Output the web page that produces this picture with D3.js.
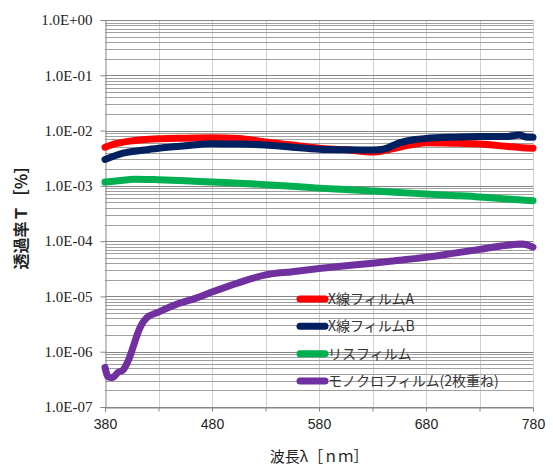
<!DOCTYPE html>
<html>
<head>
<meta charset="utf-8">
<script src="https://cdn.jsdelivr.net/npm/d3@7"></script>
<style>
  html, body { margin: 0; padding: 0; background: #fff; }
  svg { display: block; }
</style>
</head>
<body>
<svg id="chart" width="553" height="474"></svg>
<script>
// Transmittance spectra (fraction) of four films vs wavelength (nm)
const seriesNames = ["X線フィルムA", "X線フィルムB", "リスフィルム", "モノクロフィルム(2枚重ね)"];
const seriesColors = ["#ff0000", "#002060", "#00b050", "#7030a0"];

const nmA = [380, 390, 400, 415, 430, 455, 480, 505, 530, 555, 580, 605, 630, 640, 655, 670, 680, 705, 730, 755, 770, 780];
const valA = [5.0e-3, 5.8e-3, 6.3e-3, 6.8e-3, 7.1e-3, 7.3e-3, 7.4e-3, 7.2e-3, 6.2e-3, 5.5e-3, 4.8e-3, 4.5e-3, 4.1e-3, 4.3e-3, 5.0e-3, 5.7e-3, 6.0e-3, 5.9e-3, 5.7e-3, 5.2e-3, 4.9e-3, 4.8e-3];

const nmB = [380, 397, 415, 430, 455, 480, 505, 530, 555, 580, 605, 630, 640, 655, 670, 680, 705, 730, 755, 767, 775, 780];
const valB = [3.0e-3, 3.9e-3, 4.4e-3, 4.8e-3, 5.3e-3, 5.75e-3, 5.7e-3, 5.5e-3, 5.0e-3, 4.6e-3, 4.5e-3, 4.45e-3, 4.6e-3, 6.0e-3, 6.9e-3, 7.2e-3, 7.6e-3, 7.8e-3, 7.8e-3, 8.3e-3, 7.6e-3, 7.6e-3];

const nmLith = [380, 395, 407, 430, 455, 480, 505, 530, 555, 580, 605, 630, 655, 680, 705, 730, 755, 780];
const valLith = [1.17e-3, 1.25e-3, 1.32e-3, 1.29e-3, 1.24e-3, 1.17e-3, 1.12e-3, 1.05e-3, 0.98e-3, 0.91e-3, 0.86e-3, 0.81e-3, 0.76e-3, 0.71e-3, 0.67e-3, 0.63e-3, 0.58e-3, 0.54e-3];

const nmMono = [380, 383, 387, 392, 397, 402, 406, 410, 413, 419, 430, 447, 465, 480, 506, 530, 555, 580, 605, 630, 655, 680, 705, 730, 749, 770, 780];
const valMono = [5.2e-7, 3.5e-7, 3.4e-7, 4.2e-7, 4.7e-7, 7.1e-7, 1.17e-6, 2.0e-6, 2.8e-6, 4.1e-6, 5.2e-6, 7.2e-6, 9.3e-6, 1.2e-5, 1.8e-5, 2.45e-5, 2.8e-5, 3.2e-5, 3.6e-5, 4.0e-5, 4.5e-5, 5.1e-5, 6.0e-5, 7.1e-5, 8.1e-5, 8.9e-5, 7.8e-5];

// Axis ticks
const xTicks = [380, 430, 480, 530, 580, 630, 680, 730, 780];
const xTickLabels = ["380", "", "480", "", "580", "", "680", "", "780"];
const yTicks = [1, 1e-1, 1e-2, 1e-3, 1e-4, 1e-5, 1e-6, 1e-7];
const yTickLabels = ["1.0E+00", "1.0E-01", "1.0E-02", "1.0E-03", "1.0E-04", "1.0E-05", "1.0E-06", "1.0E-07"];

const xTitle = "波長λ［ｎｍ］";
const yTitle = "透過率Ｔ［％］";

const svg = d3.select("#chart");
const plotLeft = 105, plotRight = 533, plotTop = 20, plotBottom = 407;

const x = d3.scaleLinear().domain([380, 780]).range([plotLeft, plotRight]);
const y = d3.scaleLog().domain([1e-7, 1]).range([plotBottom, plotTop]);

// Minor horizontal grid (2..9 within every decade)
const minor = [];
for (let e = -7; e < 0; e++) {
  for (let k = 2; k <= 9; k++) minor.push(k * Math.pow(10, e));
}

const grid = svg.append("g");
grid.selectAll("line.vgrid").data(xTicks.slice(1)).join("line")
  .attr("class", "vgrid")
  .attr("x1", d => Math.round(x(d)) + 0.5).attr("x2", d => Math.round(x(d)) + 0.5)
  .attr("y1", plotTop).attr("y2", plotBottom)
  .attr("stroke", "#cfcfcf").attr("stroke-width", 1);

grid.selectAll("line.hminor").data(minor).join("line")
  .attr("class", "hminor")
  .attr("x1", plotLeft).attr("x2", plotRight)
  .attr("y1", d => Math.round(y(d)) + 0.5).attr("y2", d => Math.round(y(d)) + 0.5)
  .attr("stroke", "#a0a0a0").attr("stroke-width", 1);

grid.selectAll("line.hmajor").data(yTicks).join("line")
  .attr("class", "hmajor")
  .attr("x1", plotLeft).attr("x2", plotRight)
  .attr("y1", d => Math.round(y(d)) + 0.5).attr("y2", d => Math.round(y(d)) + 0.5)
  .attr("stroke", "#868686").attr("stroke-width", 1.2);

// Axes
const xAxis = d3.axisBottom(x).tickValues(xTicks)
  .tickFormat((d, i) => xTickLabels[i]).tickSizeOuter(0).tickSize(4).tickPadding(8);
const gx = svg.append("g").attr("transform", `translate(0,${plotBottom + 0.5})`).call(xAxis);
gx.select(".domain").attr("stroke", "#868686");
gx.selectAll(".tick line").attr("stroke", "#868686");
gx.selectAll("text").attr("font-family", "'Liberation Sans', Arial, sans-serif")
  .attr("font-size", 14).attr("fill", "#222");

const yAxis = d3.axisLeft(y).tickValues(yTicks)
  .tickFormat((d, i) => yTickLabels[i]).tickSizeOuter(0).tickSize(5).tickPadding(8);
const gy = svg.append("g").attr("transform", `translate(${plotLeft + 0.5},0)`).call(yAxis);
gy.select(".domain").attr("stroke", "#868686");
gy.selectAll(".tick line").attr("stroke", "#868686");
gy.selectAll("text").attr("font-family", "'Liberation Serif', 'Times New Roman', serif")
  .attr("font-size", 15).attr("fill", "#222");

// Series lines
const allSeries = [
  { nm: nmA, val: valA },
  { nm: nmB, val: valB },
  { nm: nmLith, val: valLith },
  { nm: nmMono, val: valMono }
];
const line = d3.line().x(d => x(d[0])).y(d => y(d[1])).curve(d3.curveMonotoneX);

svg.append("g").selectAll("path").data(allSeries).join("path")
  .attr("d", s => line(s.nm.map((n, i) => [n, s.val[i]])))
  .attr("fill", "none")
  .attr("stroke", (s, i) => seriesColors[i])
  .attr("stroke-width", 7)
  .attr("stroke-linejoin", "round")
  .attr("stroke-linecap", "round");

// Legend
const legend = svg.append("g");
const legY = d3.scaleLinear().domain([0, 3]).range([299, 381]);
seriesNames.forEach((name, i) => {
  const g = legend.append("g").attr("transform", `translate(0,${legY(i)})`);
  g.append("line").attr("x1", 300).attr("x2", 325).attr("y1", 0).attr("y2", 0)
    .attr("stroke", seriesColors[i]).attr("stroke-width", 7).attr("stroke-linecap", "round");
  g.append("text").attr("x", 328).attr("y", 0).attr("dy", "0.36em")
    .attr("font-family", "'Noto Sans CJK JP', sans-serif").attr("font-size", 14)
    .attr("fill", "#333").text(name);
});

// Axis titles
svg.append("text").attr("x", (plotLeft + plotRight) / 2).attr("y", 462)
  .attr("text-anchor", "middle")
  .attr("font-family", "'Noto Sans CJK JP', sans-serif").attr("font-size", 15)
  .attr("fill", "#222").text(xTitle);

svg.append("text")
  .attr("transform", `translate(27,${(plotTop + plotBottom) / 2}) rotate(-90)`)
  .attr("text-anchor", "middle")
  .attr("font-family", "'Noto Sans CJK JP', sans-serif").attr("font-size", 16)
  .attr("font-weight", "bold")
  .attr("fill", "#222").text(yTitle);
</script>
</body>
</html>
